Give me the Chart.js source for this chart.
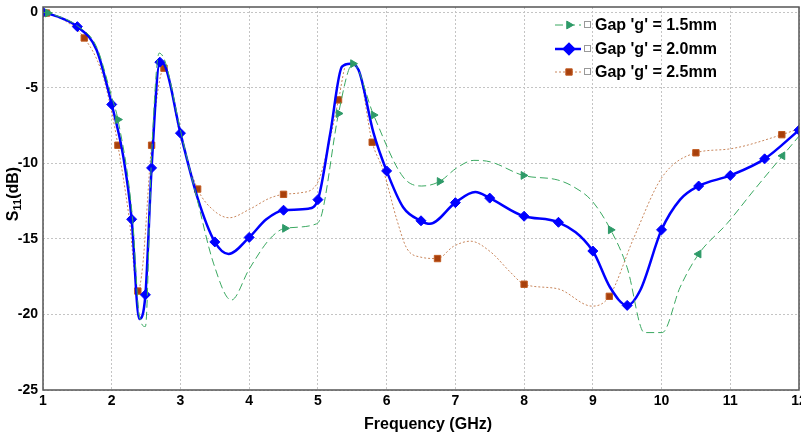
<!DOCTYPE html>
<html>
<head>
<meta charset="utf-8">
<script src="https://cdn.jsdelivr.net/npm/chart.js@4.4.1/dist/chart.umd.min.js"></script>
<style>
  html, body { margin: 0; padding: 0; background: #fff; }
  #wrap { width: 801px; height: 437px; }
</style>
</head>
<body>
<div id="wrap"><canvas id="s11Chart" width="801" height="437"></canvas></div>
<script>
// S11 vs frequency for three gap widths

const xTicks = [1, 2, 3, 4, 5, 6, 7, 8, 9, 10, 11, 12];
const yTicks = [0, -5, -10, -15, -20, -25];

// Gap 'g' = 1.5mm
const g15Freq = [1.0, 1.07, 1.5, 1.78, 2.0, 2.09, 2.3, 2.4, 2.49, 2.58, 2.69, 2.78, 3.0, 3.25, 3.48, 3.74, 4.0, 4.3, 4.52, 4.98, 5.06, 5.3, 5.51, 5.81, 6.24, 6.51, 6.77, 7.02, 7.27, 7.51, 7.99, 8.49, 8.72, 8.99, 9.26, 9.5, 9.75, 10.01, 10.27, 10.54, 10.95, 11.34, 11.76, 12.0];
const g15S11 = [0, -0.05, -0.9, -2.3, -5.6, -7.1, -13.5, -20.0, -20.8, -9.5, -2.7, -3.3, -7.8, -12.5, -16.6, -19.05, -17.0, -15.0, -14.3, -14.0, -13.3, -6.7, -3.4, -6.8, -10.9, -11.5, -11.2, -10.3, -9.8, -9.9, -10.8, -11.1, -11.55, -12.5, -14.4, -16.9, -21.2, -21.2, -18.2, -16.0, -14.0, -11.8, -9.5, -8.2];
const g15Marks = [1.07, 2.09, 4.52, 5.3, 5.51, 5.81, 6.77, 7.99, 9.26, 10.54, 11.76];
const g15MarkLeft = [10.54, 11.76];

// Gap 'g' = 2.0mm
const g20Freq = [1.0, 1.25, 1.5, 1.78, 2.0, 2.17, 2.29, 2.4, 2.49, 2.58, 2.7, 2.77, 3.0, 3.25, 3.5, 3.7, 4.0, 4.25, 4.5, 4.86, 5.0, 5.18, 5.35, 5.47, 5.59, 5.81, 6.0, 6.24, 6.5, 6.63, 7.0, 7.29, 7.5, 8.0, 8.5, 9.0, 9.25, 9.5, 9.69, 10.0, 10.27, 10.54, 11.0, 11.5, 12.0];
const g20S11 = [0, -0.35, -0.95, -2.5, -6.1, -9.6, -13.7, -20.3, -18.7, -10.3, -3.3, -3.5, -8.0, -12.3, -15.2, -16.0, -14.9, -13.7, -13.1, -13.0, -12.4, -8.0, -3.6, -3.4, -3.8, -8.0, -10.5, -12.9, -13.8, -14.0, -12.6, -11.9, -12.3, -13.5, -13.9, -15.8, -18.2, -19.4, -18.4, -14.4, -12.4, -11.5, -10.8, -9.7, -7.8];
const g20Marks = [1.0, 1.5, 2.0, 2.29, 2.49, 2.58, 2.7, 3.0, 3.5, 4.0, 4.5, 5.0, 6.0, 6.5, 7.0, 7.5, 8.0, 8.5, 9.0, 9.5, 10.0, 10.54, 11.0, 11.5, 12.0];

// Gap 'g' = 2.5mm
const g25Freq = [1.0, 1.05, 1.3, 1.6, 1.85, 2.0, 2.09, 2.25, 2.38, 2.45, 2.58, 2.76, 3.0, 3.25, 3.48, 3.71, 4.0, 4.3, 4.5, 4.74, 4.98, 5.15, 5.3, 5.42, 5.57, 5.79, 5.95, 6.15, 6.29, 6.49, 6.74, 6.97, 7.22, 7.51, 7.8, 8.0, 8.49, 8.99, 9.24, 9.59, 10.01, 10.5, 10.98, 11.75, 12.0];
const g25S11 = [0, -0.05, -0.5, -1.7, -3.9, -6.6, -8.8, -13.5, -18.45, -16.8, -8.8, -3.7, -8.2, -11.7, -13.1, -13.6, -13.05, -12.3, -12.05, -11.95, -11.4, -8.9, -5.8, -3.4, -3.6, -8.6, -10.45, -13.75, -15.6, -16.2, -16.3, -15.5, -15.15, -15.85, -17.2, -18.0, -18.3, -19.45, -18.8, -15.0, -10.9, -9.3, -9.05, -8.1, -7.7];
const g25Marks = [1.05, 1.6, 2.09, 2.38, 2.58, 2.76, 3.25, 4.5, 5.3, 5.79, 6.74, 8.0, 9.24, 10.5, 11.75];

const FONT = 'Liberation Sans, Arial, sans-serif';

function toPoints(xs, ys) {
  return xs.map((x, i) => ({ x: x, y: ys[i] }));
}

function markerRadius(marks, r) {
  return function(ctx) {
    return marks.includes(ctx.raw.x) ? r : 0;
  };
}

// frame, axis titles and the legend box
const extrasPlugin = {
  id: 'extras',
  afterDraw(chart) {
    const ctx = chart.ctx;
    const a = chart.chartArea;

    ctx.save();
    ctx.strokeStyle = '#555';
    ctx.lineWidth = 1.5;
    ctx.setLineDash([]);
    ctx.strokeRect(a.left, a.top, a.right - a.left, a.bottom - a.top);

    // x axis title
    ctx.fillStyle = '#000';
    ctx.font = 'bold 16px ' + FONT;
    ctx.textAlign = 'center';
    ctx.textBaseline = 'middle';
    ctx.fillText('Frequency (GHz)', 428, 425);

    // y axis title  S11(dB)
    ctx.translate(14, 194);
    ctx.rotate(-Math.PI / 2);
    const w1 = ctx.measureText('S').width;
    ctx.font = 'bold 11px ' + FONT;
    const w2 = ctx.measureText('11').width;
    ctx.font = 'bold 16px ' + FONT;
    const w3 = ctx.measureText('(dB)').width;
    let x0 = -(w1 + w2 + w3) / 2;
    ctx.textAlign = 'left';
    ctx.fillText('S', x0, 0);
    ctx.font = 'bold 11px ' + FONT;
    ctx.fillText('11', x0 + w1, 4);
    ctx.font = 'bold 16px ' + FONT;
    ctx.fillText('(dB)', x0 + w1 + w2, 0);
    ctx.restore();

    // legend
    const rowsY = [25, 49, 72];
    chart.data.datasets.forEach((ds, i) => {
      const y = rowsY[i];
      ctx.save();
      ctx.strokeStyle = ds.borderColor;
      ctx.lineWidth = ds.borderWidth;
      ctx.setLineDash(ds.borderDash || []);
      ctx.beginPath();
      ctx.moveTo(555, y);
      ctx.lineTo(581, y);
      ctx.stroke();
      ctx.setLineDash([]);
      ctx.fillStyle = ds.pointBackgroundColor;
      ctx.strokeStyle = ds.pointBorderColor;
      Chart.helpers.drawPoint(ctx, {
        pointStyle: ds.pointStyle,
        radius: ds.legendRadius,
        rotation: ds.legendRotation,
        borderWidth: 1
      }, 569, y);
      ctx.strokeStyle = '#999';
      ctx.lineWidth = 1;
      ctx.strokeRect(584.5, y - 3.5, 6, 6);
      ctx.fillStyle = '#000';
      ctx.font = 'bold 16px ' + FONT;
      ctx.textAlign = 'left';
      ctx.textBaseline = 'middle';
      ctx.fillText(ds.label, 595, y + 1);
      ctx.restore();
    });
  }
};

const chart = new Chart(document.getElementById('s11Chart').getContext('2d'), {
  type: 'line',
  data: {
    datasets: [
      {
        label: "Gap 'g' = 1.5mm",
        data: toPoints(g15Freq, g15S11),
        borderColor: '#3aa860',
        borderWidth: 1,
        borderDash: [8, 4],
        cubicInterpolationMode: 'monotone',
        pointStyle: 'triangle',
        pointRadius: markerRadius(g15Marks, 4.5),
        pointRotation: ctx => g15MarkLeft.includes(ctx.raw.x) ? 270 : 90,
        pointBackgroundColor: '#2e9a68',
        pointBorderColor: '#2e9a68',
        pointBorderWidth: 1,
        legendRadius: 4.5,
        legendRotation: 90
      },
      {
        label: "Gap 'g' = 2.0mm",
        data: toPoints(g20Freq, g20S11),
        borderColor: '#0000ff',
        borderWidth: 2.5,
        cubicInterpolationMode: 'monotone',
        pointStyle: 'rectRot',
        pointRadius: markerRadius(g20Marks, 5),
        pointBackgroundColor: '#0000ff',
        pointBorderColor: '#0000ff',
        pointBorderWidth: 1,
        legendRadius: 5,
        legendRotation: 0
      },
      {
        label: "Gap 'g' = 2.5mm",
        data: toPoints(g25Freq, g25S11),
        borderColor: '#c8865c',
        borderWidth: 1,
        borderDash: [2, 2],
        cubicInterpolationMode: 'monotone',
        pointStyle: 'rect',
        pointRadius: markerRadius(g25Marks, 4.5),
        pointBackgroundColor: '#a8400c',
        pointBorderColor: '#c05a20',
        pointBorderWidth: 1,
        legendRadius: 4.5,
        legendRotation: 0
      }
    ]
  },
  options: {
    responsive: false,
    animation: false,
    events: [],
    layout: { autoPadding: false, padding: { top: 7, right: 2, left: 0, bottom: 0 } },
    plugins: {
      legend: { display: false },
      tooltip: { enabled: false }
    },
    scales: {
      x: {
        type: 'linear',
        min: 1,
        max: 12,
        afterFit: s => { s.height = 47; s.paddingLeft = 0; s.paddingRight = 0; },
        afterBuildTicks: s => { s.ticks = xTicks.map(v => ({ value: v })); },
        grid: { color: '#c4c4c4', lineWidth: 1, drawTicks: false },
        border: { display: false, dash: [2, 2] },
        ticks: {
          color: '#000',
          padding: 3,
          maxRotation: 0,
          autoSkip: false,
          font: { family: FONT, size: 14, weight: 'bold' }
        }
      },
      y: {
        min: -25,
        max: 0.35,
        afterFit: s => { s.width = 43; s.paddingTop = 0; s.paddingBottom = 0; },
        afterBuildTicks: s => { s.ticks = yTicks.map(v => ({ value: v })); },
        grid: { color: '#c4c4c4', lineWidth: 1, drawTicks: false },
        border: { display: false, dash: [2, 2] },
        ticks: {
          color: '#000',
          padding: 5,
          autoSkip: false,
          font: { family: FONT, size: 14, weight: 'bold' }
        }
      }
    }
  },
  plugins: [extrasPlugin]
});
</script>
</body>
</html>
